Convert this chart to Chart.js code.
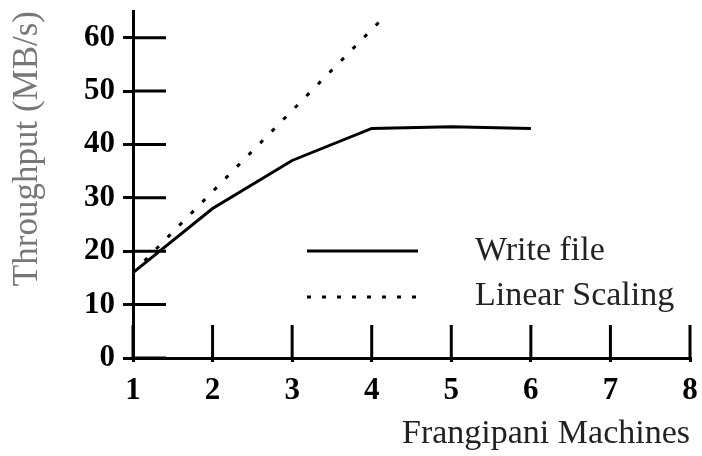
<!DOCTYPE html>
<html>
<head>
<meta charset="utf-8">
<script src="https://cdn.jsdelivr.net/npm/chart.js@4.4.1/dist/chart.umd.min.js"></script>
<style>
  html, body { margin: 0; padding: 0; background: #fff; }
  #wrap { width: 702px; height: 456px; position: relative; }
</style>
</head>
<body>
<div id="wrap"><canvas id="c" width="702" height="456"></canvas></div>
<script>
// ---- data ----
const machines = [1, 2, 3, 4, 5, 6];
const writeFile = [16, 28, 37, 43, 43.3, 43];
const linearX = [1, 4.13];
const linearY = [16, 63.5];
const yTicks = [0, 10, 20, 30, 40, 50, 60];
const xTicks = [1, 2, 3, 4, 5, 6, 7, 8];
const seriesNames = ['Write file', 'Linear Scaling'];
const xTitle = 'Frangipani Machines';
const yTitle = 'Throughput (MB/s)';

const SERIF = '"Liberation Serif", "Times New Roman", serif';

const innerTicks = {
  id: 'innerTicks',
  beforeDatasetsDraw(chart) {
    const ctx = chart.ctx;
    const xs = chart.scales.x, ys = chart.scales.y;
    const left = chart.chartArea.left, bottom = chart.chartArea.bottom;
    ctx.save();
    ctx.strokeStyle = '#000';
    ctx.lineWidth = 3;
    ctx.beginPath();
    yTicks.forEach(v => {
      const py = ys.getPixelForValue(v);
      ctx.moveTo(left, py);
      ctx.lineTo(left + 33, py);
    });
    xTicks.forEach(v => {
      const px = xs.getPixelForValue(v);
      ctx.moveTo(px, bottom);
      ctx.lineTo(px, bottom - 33);
    });
    ctx.stroke();
    ctx.restore();
  }
};

const legendPlugin = {
  id: 'customLegend',
  afterDatasetsDraw(chart) {
    const ctx = chart.ctx;
    const rows = [
      { ds: chart.data.datasets[0], lineY: 251, textY: 260, dash: [] },
      { ds: chart.data.datasets[1], lineY: 297, textY: 305, dash: [4, 11] }
    ];
    ctx.save();
    rows.forEach(r => {
      ctx.strokeStyle = r.ds.borderColor;
      ctx.lineWidth = r.ds.borderWidth;
      ctx.setLineDash(r.dash);
      ctx.beginPath();
      ctx.moveTo(307, r.lineY);
      ctx.lineTo(418, r.lineY);
      ctx.stroke();
      ctx.setLineDash([]);
      ctx.fillStyle = '#222';
      ctx.font = '34px ' + SERIF;
      ctx.textBaseline = 'alphabetic';
      ctx.textAlign = 'left';
      ctx.fillText(r.ds.label, 475, r.textY);
    });
    ctx.restore();
  }
};

new Chart(document.getElementById('c'), {
  type: 'line',
  data: {
    datasets: [
      {
        label: seriesNames[0],
        data: machines.map((m, i) => ({ x: m, y: writeFile[i] })),
        borderColor: '#000',
        borderWidth: 3,
        pointRadius: 0,
        tension: 0,
        fill: false
      },
      {
        label: seriesNames[1],
        data: linearX.map((m, i) => ({ x: m, y: linearY[i] })),
        borderColor: '#000',
        borderWidth: 3,
        borderDash: [4, 12.5],
        pointRadius: 0,
        tension: 0,
        fill: false
      }
    ]
  },
  options: {
    responsive: false,
    animation: false,
    devicePixelRatio: 1,
    layout: { padding: { top: 11, right: 12, left: 0, bottom: 2 } },
    plugins: { legend: { display: false }, tooltip: { enabled: false } },
    scales: {
      x: {
        type: 'linear',
        min: 1, max: 8,
        afterFit(s) { s.height = 96; s.paddingLeft = 0; s.paddingRight = 0; },
        afterBuildTicks(s) { s.ticks = xTicks.map(v => ({ value: v })); },
        grid: { drawOnChartArea: false, drawTicks: true, tickLength: 4, color: '#000', lineWidth: 3 },
        border: { display: true, color: '#000', width: 3 },
        ticks: { color: '#000', padding: 10, font: { family: SERIF, size: 31, weight: 'bold' } },
        title: { display: true, text: xTitle, align: 'end', color: '#222', padding: { top: 0, bottom: 0 }, font: { family: SERIF, size: 34 } }
      },
      y: {
        type: 'linear',
        min: 0, max: 65,
        afterFit(s) { s.width = 133; s.paddingTop = 0; s.paddingBottom = 0; },
        afterBuildTicks(s) { s.ticks = yTicks.map(v => ({ value: v })); },
        grid: { drawOnChartArea: false, drawTicks: true, tickLength: 10, color: '#000', lineWidth: 3 },
        border: { display: true, color: '#000', width: 3 },
        ticks: { color: '#000', padding: 8, font: { family: SERIF, size: 31, weight: 'bold' } },
        title: { display: true, text: yTitle, align: 'end', color: '#777', padding: { top: 7, bottom: 0 }, font: { family: SERIF, size: 35 } }
      }
    }
  },
  plugins: [innerTicks, legendPlugin]
});
</script>
</body>
</html>
